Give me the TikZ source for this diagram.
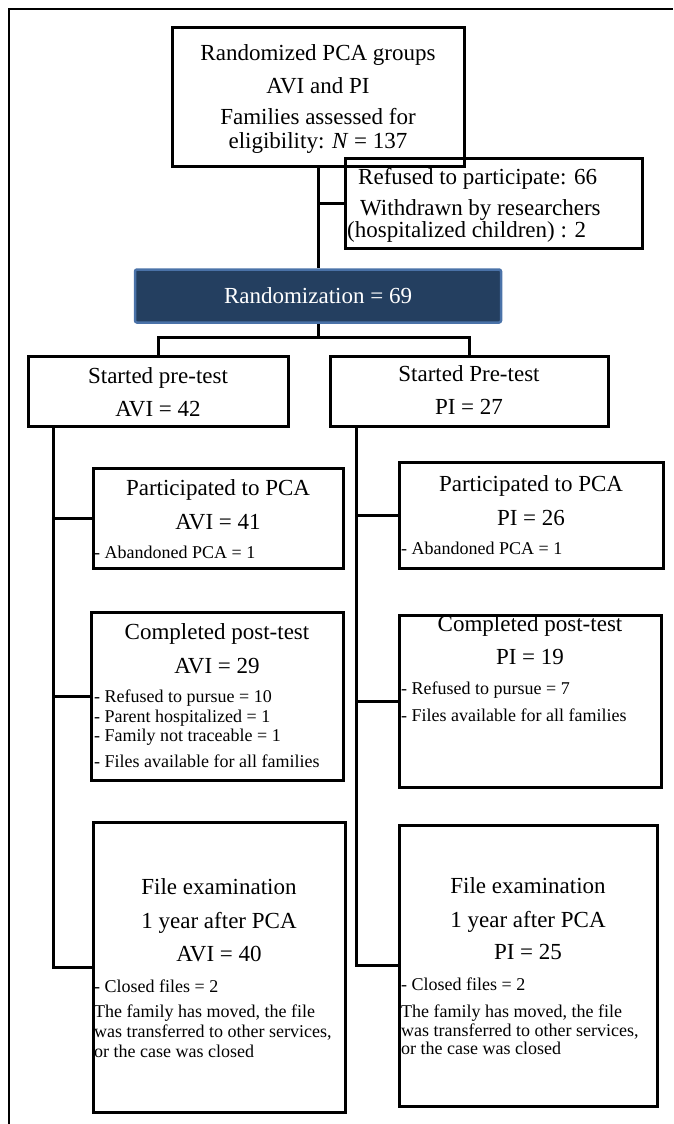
\documentclass[tikz,border=0pt]{standalone}
\usepackage{fontspec}
\setmainfont{Liberation Serif}

\definecolor{randfill}{HTML}{243F60}
\definecolor{randline}{HTML}{4A72A8}

\begin{document}
\begin{tikzpicture}[
		x=1pt, y=-1pt,
		box/.style={draw, line width=3pt, inner sep=0pt},
		head/.style={font=\fontsize{23}{26}\selectfont, inner sep=0pt, anchor=base},
		note/.style={font=\fontsize{18}{20}\selectfont, inner sep=0pt, anchor=base west},
		link/.style={line width=3pt}
		]
		\useasboundingbox (0,0) rectangle (673,1124);
		
		% Frame
		\draw[line width=2pt] (9,1124) -- (9,9) -- (673,9);
		
		% Boxes
		\node[box, minimum width=292pt, minimum height=138pt] (groups) at (318,97) {};
		\node[box, minimum width=297pt, minimum height=90pt] (refused) at (494,203) {};
		\node[box, draw=randline, fill=randfill, line width=2.5pt, rounded corners=2pt,
		minimum width=366pt, minimum height=53pt, text=white,
		font=\fontsize{23}{26}\selectfont] (rando) at (318,296) {Randomization = 69};
		
		\node[box, minimum width=260pt, minimum height=70pt] (preavi) at (158,391) {};
		\node[box, minimum width=278pt, minimum height=70pt] (prepi) at (469,391) {};
		\node[box, minimum width=250pt, minimum height=100pt] (pcaavi) at (218,518) {};
		\node[box, minimum width=264pt, minimum height=106pt] (pcapi) at (531,515) {};
		\node[box, minimum width=252pt, minimum height=168pt] (postavi) at (217,696) {};
		\node[box, minimum width=262pt, minimum height=172pt] (postpi) at (530,701) {};
		\node[box, minimum width=252pt, minimum height=290pt] (fileavi) at (219,967) {};
		\node[box, minimum width=258pt, minimum height=281pt] (filepi) at (528,965.5) {};
		
		% Texts
		\foreach \t/\y [count=\i] in {Randomized PCA groups/60, AVI and PI/93,
			Families assessed for/124, {eligibility: \textit{N} = 137}/148}
		\node[head] (groups\i) at (318,\y) {\t};
		\node[head, anchor=base west] (refused1) at (358,184) {Refused to participate: 66};
		\node[head, anchor=base west] (refused2) at (360,215) {Withdrawn by researchers};
		\node[head, anchor=base west] (refused3) at (347,237) {(hospitalized children) : 2};
		
		\node[head] (preavi1) at (158,383) {Started pre-test};
		\node[head] (preavi2) at (158,416) {AVI = 42};
		\node[head] (prepi1) at (469,381) {Started Pre-test};
		\node[head] (prepi2) at (469,414) {PI = 27};
		
		\node[head] (pcaavi1) at (218,495) {Participated to PCA};
		\node[head] (pcaavi2) at (218,529) {AVI = 41};
		\node[note] (pcaavi3) at (94,558) {- Abandoned PCA = 1};
		\node[head] (pcapi1) at (531,491) {Participated to PCA};
		\node[head] (pcapi2) at (531,525) {PI = 26};
		\node[note] (pcapi3) at (401,554) {- Abandoned PCA = 1};
		
		\node[head] (postavi1) at (217,639) {Completed post-test};
		\node[head] (postavi2) at (217,673) {AVI = 29};
		\foreach \t/\y [count=\i] in {- Refused to pursue = 10/702, - Parent hospitalized = 1/722,
			- Family not traceable = 1/741, - Files available for all families/767}
		\node[note] (postavin\i) at (94,\y) {\t};
		\node[head] (postpi1) at (530,631) {Completed post-test};
		\node[head] (postpi2) at (530,664) {PI = 19};
		\foreach \t/\y [count=\i] in {- Refused to pursue = 7/694, - Files available for all families/721}
		\node[note] (postpin\i) at (401,\y) {\t};
		
		\foreach \t/\y [count=\i] in {File examination/894, 1 year after PCA/928, AVI = 40/961}
		\node[head] (fileavi\i) at (219,\y) {\t};
		\foreach \t/\y [count=\i] in {- Closed files = 2/992, {The family has moved, the file}/1017,
			{was transferred to other services,}/1037, or the case was closed/1057}
		\node[note] (fileavin\i) at (94,\y) {\t};
		\foreach \t/\y [count=\i] in {File examination/893, 1 year after PCA/927, PI = 25/959}
		\node[head] (filepi\i) at (528,\y) {\t};
		\foreach \t/\y [count=\i] in {- Closed files = 2/990, {The family has moved, the file}/1017,
			{was transferred to other services,}/1036, or the case was closed/1054}
		\node[note] (filepin\i) at (401,\y) {\t};
		
		% Connectors
		\draw[link] (groups.south) -- (rando.north);
		\draw[link] (groups.south |- refused.west) -- (refused.west);
		\draw[link] (rando.south) -- ++(0,14) coordinate (fork);
		\draw[link] (preavi.north) |- (fork) -| (prepi.north);
		
		\coordinate (avitrunk) at ([xshift=27pt]preavi.south west);
		\coordinate (pitrunk) at ([xshift=28pt]prepi.south west);
		\draw[link] (avitrunk) |- (fileavi.west);
		\draw[link] (pitrunk) |- (filepi.west);
		\foreach \n in {pcaavi, postavi}
		\draw[link] (\n.west -| avitrunk) -- (\n.west);
		\foreach \n in {pcapi, postpi}
		\draw[link] (\n.west -| pitrunk) -- (\n.west);
		
	\end{tikzpicture}
\end{document}
